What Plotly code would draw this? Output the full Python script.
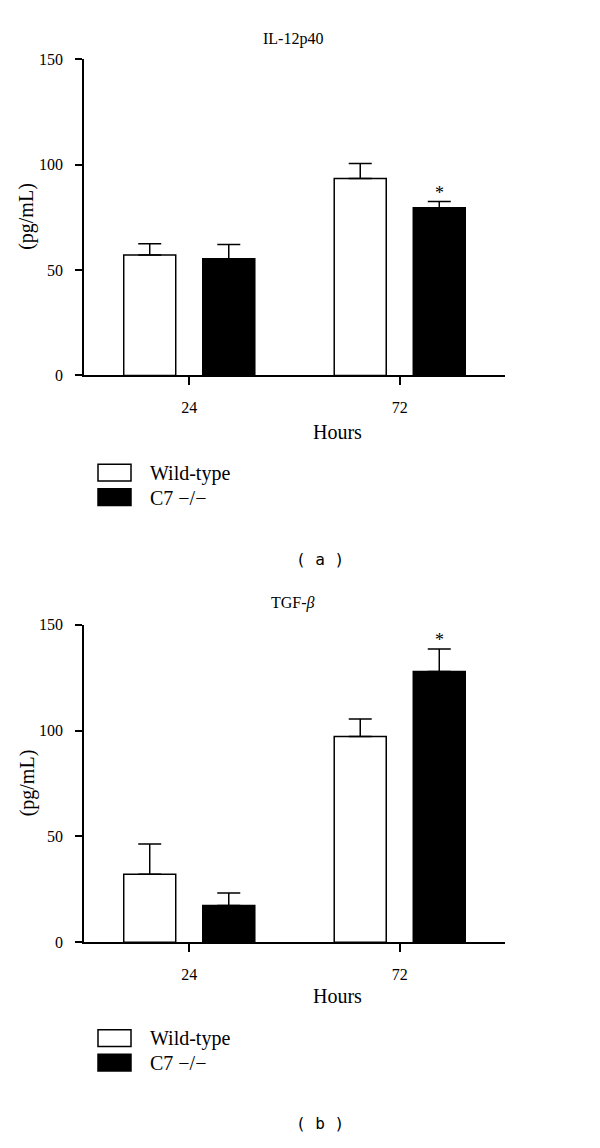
import plotly.graph_objects as go

hours = ["24", "72"]
series_names = ["Wild-type", "C7 \u2212/\u2212"]

# Panel (a) IL-12p40
il12_wt = [57.2, 93.4]
il12_wt_err = [5.3, 7.2]
il12_ko = [55.4, 79.6]
il12_ko_err = [6.7, 2.9]

# Panel (b) TGF-beta
tgf_wt = [32.1, 97.2]
tgf_wt_err = [14.3, 8.3]
tgf_ko = [17.4, 127.9]
tgf_ko_err = [5.9, 10.6]

y_ticks = [0, 50, 100, 150]

SERIF = "Liberation Serif"
W, H = 600, 1148

fig = go.Figure()

def add_panel(xa, ya, wt, wt_err, ko, ko_err):
    fig.add_trace(go.Bar(
        x=hours, y=wt, name=series_names[0], xaxis=xa, yaxis=ya,
        marker=dict(color="white", line=dict(color="black", width=1.5)),
        error_y=dict(type="data", array=wt_err, arrayminus=[0] * len(wt_err),
                     symmetric=False, color="black", thickness=1.5, width=11.5),
        showlegend=False, offsetgroup="wt"))
    fig.add_trace(go.Bar(
        x=hours, y=ko, name=series_names[1], xaxis=xa, yaxis=ya,
        marker=dict(color="black", line=dict(color="black", width=1.5)),
        error_y=dict(type="data", array=ko_err, arrayminus=[0] * len(ko_err),
                     symmetric=False, color="black", thickness=1.5, width=11.5),
        showlegend=False, offsetgroup="ko"))

add_panel("x", "y", il12_wt, il12_wt_err, il12_ko, il12_ko_err)
add_panel("x2", "y2", tgf_wt, tgf_wt_err, tgf_ko, tgf_ko_err)

def py(px):
    return 1 - px / H

def px_x(px):
    return px / W

xdom = [px_x(84), px_x(505)]
axis_common_x = dict(
    type="category",
    domain=xdom, range=[-0.5, 1.5], showline=True, linecolor="black", linewidth=1.5,
    ticks="outside", ticklen=8, tickwidth=1.5, tickcolor="black",
    tickfont=dict(family=SERIF, size=16, color="black"), showgrid=False, zeroline=False,
    fixedrange=True, ticklabelstandoff=9,
)
axis_common_y = dict(
    range=[0, 150], tickvals=y_ticks, showline=True, linecolor="black", linewidth=1.5,
    ticks="outside", ticklen=7, tickwidth=1.5, tickcolor="black",
    tickfont=dict(family=SERIF, size=16, color="black"), showgrid=False, zeroline=False,
    fixedrange=True, ticklabelstandoff=9,
)

fig.update_layout(
    width=W, height=H, margin=dict(l=0, r=0, t=0, b=0), autosize=False,
    paper_bgcolor="white", plot_bgcolor="white",
    barmode="group", bargap=0.249, bargroupgap=0.342,
    xaxis=dict(anchor="y", **axis_common_x),
    yaxis=dict(anchor="x", domain=[py(373), py(52)], **axis_common_y),
    xaxis2=dict(anchor="y2", **axis_common_x),
    yaxis2=dict(anchor="x2", domain=[py(948.3), py(626)], **axis_common_y),
)

ann = []
shapes = []

def text(x, y, s, size=18, family=SERIF, xanchor="center", angle=0):
    ann.append(dict(xref="paper", yref="paper", x=px_x(x), y=py(y), text=s,
                    showarrow=False, xanchor=xanchor, yanchor="middle", textangle=angle,
                    font=dict(family=family, size=size, color="black")))

# titles
text(293, 31, "IL-12p40", size=16)
text(293, 604, "TGF-<i>\u03b2</i>", size=16)
# y labels
text(27, 212, "(pg/mL)", size=20, angle=-90)
text(27, 787, "(pg/mL)", size=20, angle=-90)
# x labels
text(337, 430, "Hours", size=20)
text(337, 1003, "Hours", size=20)

# legends
for (top_w, top_k) in [(463, 488), (1037, 1062)]:
    shapes.append(dict(type="rect", xref="paper", yref="paper",
                       x0=px_x(98), x1=px_x(131), y0=py(top_w + 17), y1=py(top_w),
                       fillcolor="white", line=dict(color="black", width=1.5)))
    shapes.append(dict(type="rect", xref="paper", yref="paper",
                       x0=px_x(98), x1=px_x(131), y0=py(top_k + 17), y1=py(top_k),
                       fillcolor="black", line=dict(color="black", width=1.5)))
    text(148, top_w + 9, series_names[0], size=20, xanchor="left")
    text(148, top_k + 9, series_names[1], size=20, xanchor="left")

# panel labels
text(320, 560, "( a )", size=16, family="DejaVu Sans Mono")
text(320, 1132, "( b )", size=16, family="DejaVu Sans Mono")

# significance stars above the C7-/- bar at 72 h
for xr, yr, vals, errs in [("x", "y", il12_ko, il12_ko_err), ("x2", "y2", tgf_ko, tgf_ko_err)]:
    ann.append(dict(xref=xr, yref=yr, x=1, y=vals[1] + errs[1], text="*",
                    showarrow=False, xshift=39.5, yanchor="bottom", yshift=-3,
                    font=dict(family=SERIF, size=18, color="black")))

fig.update_layout(annotations=ann, shapes=shapes)
fig.write_html("out.html", config=dict(displayModeBar=False),
               post_script="document.body.style.margin='0';document.body.style.overflow='hidden';")
